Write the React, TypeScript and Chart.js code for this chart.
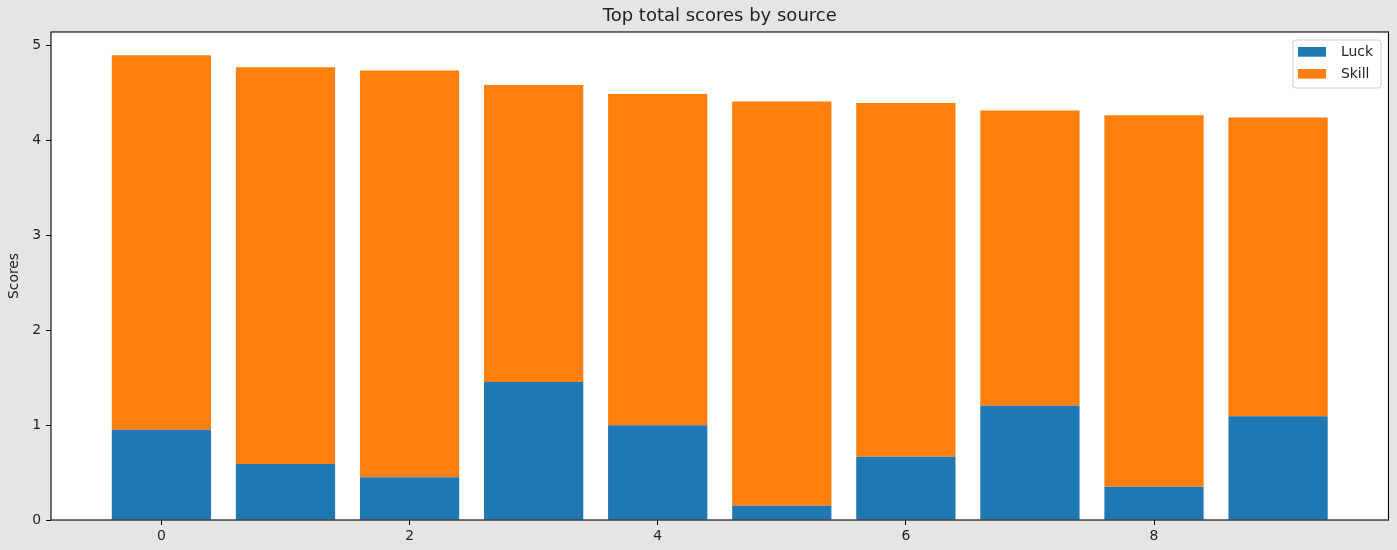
import { useEffect, useRef } from "react";
import { Chart, registerables } from "chart.js";
import type { ChartConfiguration, Plugin } from "chart.js";

Chart.register(...registerables);

// positions 0..9 on a linear x axis, like matplotlib's range(10)
const POSITIONS = [0, 1, 2, 3, 4, 5, 6, 7, 8, 9];
const LUCK = [0.949, 0.589, 0.449, 1.452, 0.998, 0.149, 0.666, 1.203, 0.351, 1.092];
const SKILL = [3.944, 4.178, 4.284, 3.127, 3.486, 4.256, 3.724, 3.107, 3.91, 3.145];
const SERIES_NAMES = ["Luck", "Skill"];
const SERIES_COLORS = ["#1f77b4", "#ff7f0e"];
const TITLE = "Top total scores by source";
const Y_LABEL = "Scores";

const FONT = "'DejaVu Sans', sans-serif";
const TEXT = "#222222";

// plot background, frame, title and in-axes legend (matplotlib style)
const mplLook: Plugin<"bar"> = {
  id: "mplLook",
  beforeDraw(chart) {
    const { ctx, chartArea: a } = chart;
    ctx.save();
    ctx.fillStyle = "#ffffff";
    ctx.fillRect(a.left, a.top, a.right - a.left, a.bottom - a.top);
    ctx.restore();
  },
  afterDraw(chart) {
    const { ctx, chartArea: a } = chart;
    ctx.save();

    // spines
    ctx.strokeStyle = "#000000";
    ctx.lineWidth = 1.1;
    ctx.strokeRect(a.left, a.top, a.right - a.left, a.bottom - a.top);

    // title
    ctx.fillStyle = TEXT;
    ctx.font = `18px ${FONT}`;
    ctx.textAlign = "center";
    ctx.textBaseline = "alphabetic";
    ctx.fillText(TITLE, (a.left + a.right) / 2, a.top - 11);

    // legend
    const w = 88, h = 48;
    const x = a.right - 7.5 - w;
    const y = a.top + 8;
    ctx.beginPath();
    ctx.roundRect(x, y, w, h, 3);
    ctx.fillStyle = "rgba(255,255,255,0.8)";
    ctx.fill();
    ctx.strokeStyle = "#cccccc";
    ctx.lineWidth = 1;
    ctx.stroke();

    ctx.font = `13.9px ${FONT}`;
    ctx.textAlign = "left";
    ctx.textBaseline = "middle";
    SERIES_NAMES.forEach((name, i) => {
      const cy = y + 12 + i * 22;
      ctx.fillStyle = SERIES_COLORS[i];
      ctx.fillRect(x + 5, cy - 5, 28, 9.7);
      ctx.fillStyle = TEXT;
      ctx.fillText(name, x + 48, cy);
    });

    ctx.restore();
  },
};

export default function App() {
  const canvasRef = useRef<HTMLCanvasElement | null>(null);

  useEffect(() => {
    const ctx = canvasRef.current!.getContext("2d")!;

    const totals = LUCK.map((v, i) => v + SKILL[i]);
    const yMax = Math.max(...totals) * 1.05;

    const tickFont = { family: FONT, size: 13.9 };
    const tickGrid = {
      display: true,
      offset: false,
      drawOnChartArea: false,
      drawTicks: true,
      tickLength: 5,
      tickColor: "#000000",
      color: "#000000",
      lineWidth: 1,
    };

    const config: ChartConfiguration<"bar", { x: number; y: number }[], number> = {
      type: "bar",
      data: {
        datasets: [LUCK, SKILL].map((vals, s) => ({
          label: SERIES_NAMES[s],
          data: vals.map((v, i) => ({ x: POSITIONS[i], y: v })),
          backgroundColor: SERIES_COLORS[s],
          borderWidth: 0,
          barPercentage: 0.8,
          categoryPercentage: 1.0,
        })),
      },
      options: {
        responsive: true,
        maintainAspectRatio: false,
        animation: false,
        layout: { padding: { top: 32, right: 8.5, bottom: 0, left: 0 } },
        plugins: {
          legend: { display: false },
          title: { display: false },
          tooltip: { enabled: false },
        },
        scales: {
          x: {
            type: "linear",
            stacked: true,
            offset: false,
            min: -0.89,
            max: 9.89,
            grid: tickGrid,
            border: { display: false },
            ticks: {
              stepSize: 2,
              includeBounds: false,
              color: TEXT,
              font: tickFont,
              padding: 3,
              maxRotation: 0,
            },
            afterFit(scale) {
              scale.height = 30;
            },
          },
          y: {
            type: "linear",
            stacked: true,
            min: 0,
            max: yMax,
            grid: tickGrid,
            border: { display: false },
            ticks: {
              stepSize: 1,
              includeBounds: false,
              color: TEXT,
              font: tickFont,
              padding: 5,
            },
            title: {
              display: true,
              text: Y_LABEL,
              color: TEXT,
              font: tickFont,
              padding: { top: 6, bottom: 0 },
            },
            afterFit(scale) {
              scale.width = 51;
            },
          },
        },
      },
      plugins: [mplLook],
    };

    const chart = new Chart(ctx, config as any);
    return () => chart.destroy();
  }, []);

  return (
    <div
      style={{
        position: "fixed",
        left: 0,
        top: 0,
        width: 1397,
        height: 550,
        background: "#e5e5e5",
      }}
    >
      <canvas ref={canvasRef} />
    </div>
  );
}
